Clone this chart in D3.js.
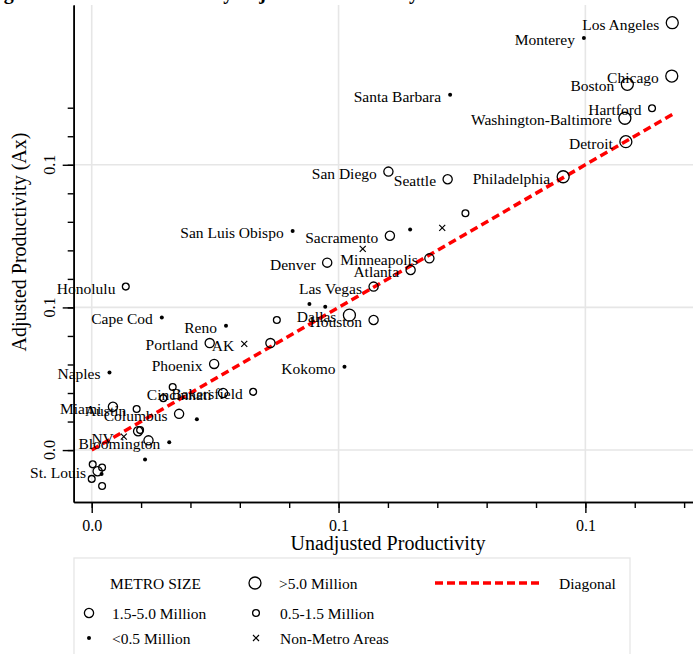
<!DOCTYPE html>
<html>
<head>
<meta charset="utf-8">
<script src="https://cdn.jsdelivr.net/npm/d3@7"></script>
<style>
body { margin: 0; background: #fff; }
svg { display: block; font-family: "Liberation Serif", "Times New Roman", serif; }
</style>
</head>
<body>
<script>
// metro groups: [label, unadjusted, adjusted]
const over5 = [
    ["Los Angeles", 0.1176, 0.1498],
    ["Chicago", 0.1175, 0.1311],
    ["Boston", 0.1085, 0.1282],
    ["Washington-Baltimore", 0.1080, 0.1163],
    ["Detroit", 0.1082, 0.1081],
    ["Philadelphia", 0.0955, 0.0958],
    ["Dallas", 0.0522, 0.0473]
];
const mid = [
    ["San Diego", 0.0601, 0.0976],
    ["Seattle", 0.0721, 0.0949],
    ["Sacramento", 0.0604, 0.0751],
    ["Denver", 0.0477, 0.0657],
    ["Minneapolis", 0.0684, 0.0672],
    ["Atlanta", 0.0646, 0.0631],
    ["Las Vegas", 0.0571, 0.0573],
    ["Houston", 0.0571, 0.0456],
    ["Portland", 0.0239, 0.0375],
    ["", 0.0362, 0.0375],
    ["Phoenix", 0.0248, 0.0302],
    ["Cincinnati", 0.0266, 0.0200],
    ["Miami", 0.0043, 0.0152],
    ["Columbus", 0.0177, 0.0127],
    ["", 0.0094, 0.0066],
    ["", 0.0115, 0.0034],
    ["St. Louis", 0.0012, -0.0074]
];
const small = [
    ["Hartford", 0.1135, 0.1198],
    ["", 0.0757, 0.0830],
    ["", 0.0375, 0.0456],
    ["Honolulu", 0.0069, 0.0573],
    ["", 0.0164, 0.0221],
    ["", 0.0145, 0.0182],
    ["Bakersfield", 0.0327, 0.0204],
    ["Austin", 0.0091, 0.0144],
    ["", 0.0098, 0.0070],
    ["", 0.0002, -0.0050],
    ["", 0.0021, -0.0061],
    ["", 0.0000, -0.0101],
    ["", 0.0021, -0.0126]
];
const under05 = [
    ["Monterey", 0.0997, 0.1444],
    ["Santa Barbara", 0.0726, 0.1245],
    ["San Luis Obispo", 0.0407, 0.0768],
    ["", 0.0645, 0.0773],
    ["", 0.0441, 0.0512],
    ["", 0.0473, 0.0502],
    ["Cape Cod", 0.0142, 0.0465],
    ["Reno", 0.0272, 0.0436],
    ["Kokomo", 0.0512, 0.0292],
    ["Naples", 0.0036, 0.0272],
    ["", 0.0213, 0.0108],
    ["Bloomington", 0.0157, 0.0027],
    ["", 0.0108, -0.0033],
    ["", 0.0020, -0.0084]
];
const nonMetro = [
    ["", 0.0710, 0.0779],
    ["", 0.0549, 0.0705],
    ["AK", 0.0309, 0.0372],
    ["NV", 0.0065, 0.0047]
];

const majorTicks = [0, 0.05, 0.10];
const xTickLabels = ["0.0", "0.1", "0.1"];
const yTickLabels = ["0.0", "0.1", "0.1"];
const minorTicks = d3.range(0, 13).map(i => i / 100);

const width = 693, height = 654;

const svg = d3.select("body").append("svg")
    .attr("width", width)
    .attr("height", height);

const x = d3.scaleLinear().domain([-0.00365, 0.1218]).range([73.7, 693]);
const y = d3.scaleLinear().domain([-0.0182, 0.156]).range([502, 5]);

// title, mostly above the visible area
svg.append("text")
    .attr("x", -14).attr("y", -1)
    .style("font-size", "20px").style("font-weight", "bold")
    .text("Figure 5: Labor Productivity adjusted for industry");

// grid
svg.append("g").selectAll("line")
    .data(majorTicks).enter().append("line")
    .attr("x1", d => x(d)).attr("x2", d => x(d))
    .attr("y1", 5).attr("y2", 502)
    .attr("stroke", "#e6e6e6").attr("stroke-width", 1.6);
svg.append("g").selectAll("line")
    .data(majorTicks).enter().append("line")
    .attr("x1", 74).attr("x2", 693)
    .attr("y1", d => y(d)).attr("y2", d => y(d))
    .attr("stroke", "#e6e6e6").attr("stroke-width", 1.6);

// axes
const xAxisG = svg.append("g").attr("transform", "translate(0,502)");
xAxisG.call(d3.axisBottom(x).tickValues(minorTicks).tickSize(6).tickSizeOuter(0).tickFormat(""));
xAxisG.append("g").call(d3.axisBottom(x).tickValues(majorTicks).tickSize(11).tickSizeOuter(0)
    .tickPadding(7).tickFormat((d, i) => xTickLabels[i]));
xAxisG.selectAll("path.domain").attr("stroke-width", 1.6);
xAxisG.selectAll("line").attr("stroke-width", 1.4);
xAxisG.selectAll("text").style("font-size", "16px").style("font-family", "Liberation Serif, serif").attr("fill", "#000");

const yAxisG = svg.append("g").attr("transform", "translate(73.7,0)");
yAxisG.call(d3.axisLeft(y).tickValues(minorTicks).tickSize(6).tickSizeOuter(0).tickFormat(""));
yAxisG.append("g").call(d3.axisLeft(y).tickValues(majorTicks).tickSize(11).tickSizeOuter(0).tickFormat(""));
yAxisG.selectAll("path.domain").attr("stroke-width", 1.6);
yAxisG.selectAll("line").attr("stroke-width", 1.4);

svg.append("g").selectAll("text")
    .data(majorTicks).enter().append("text")
    .attr("transform", d => `translate(49,${y(d)}) rotate(-90)`)
    .attr("text-anchor", "middle").attr("dy", "0.35em")
    .style("font-size", "16px")
    .text((d, i) => yTickLabels[i]);

// axis titles
svg.append("text")
    .attr("x", 388).attr("y", 550)
    .attr("text-anchor", "middle")
    .style("font-size", "20px")
    .text("Unadjusted Productivity");
svg.append("text")
    .attr("transform", "translate(19,242) rotate(-90)")
    .attr("text-anchor", "middle").attr("dy", "0.35em")
    .style("font-size", "20px")
    .text("Adjusted Productivity (Ax)");

// diagonal
const allX = [...over5, ...mid, ...small, ...under05, ...nonMetro].map(d => d[1]);
const maxX = d3.max(allX);
svg.append("line")
    .attr("x1", x(0)).attr("y1", y(0))
    .attr("x2", x(maxX)).attr("y2", y(maxX))
    .attr("stroke", "#ff0000").attr("stroke-width", 3.5)
    .attr("stroke-dasharray", "8,4.5");

// marker drawing
const groups = [
    {data: over5, kind: "circle", r: 6},
    {data: mid, kind: "circle", r: 4.6},
    {data: small, kind: "circle", r: 3.4},
    {data: under05, kind: "dot", r: 2},
    {data: nonMetro, kind: "cross", r: 3}
];

function drawMarker(g, kind, r) {
    if (kind === "circle") {
        g.append("circle").attr("r", r).attr("fill", "none")
            .attr("stroke", "#000").attr("stroke-width", 1.3);
    } else if (kind === "dot") {
        g.append("circle").attr("r", r).attr("fill", "#000");
    } else {
        g.append("path").attr("d", `M${-r},${-r}L${r},${r}M${-r},${r}L${r},${-r}`)
            .attr("stroke", "#000").attr("stroke-width", 1.2);
    }
}

groups.forEach(grp => {
    const pts = svg.append("g").selectAll("g")
        .data(grp.data).enter().append("g")
        .attr("transform", d => `translate(${x(d[1])},${y(d[2])})`);
    pts.each(function() { drawMarker(d3.select(this), grp.kind, grp.r); });
    pts.filter(d => d[0] !== "").append("text")
        .attr("x", -(grp.r + 7)).attr("y", 7)
        .attr("text-anchor", "end")
        .style("font-size", "15.5px")
        .text(d => d[0]);
});

// legend
const legend = svg.append("g");
legend.append("rect")
    .attr("x", 74).attr("y", 558).attr("width", 556).attr("height", 120)
    .attr("fill", "#fff").attr("stroke", "#e6e6e6").attr("stroke-width", 1.3);

const legendItems = [
    {kind: "circle", r: 6, cx: 255, cy: 583, label: ">5.0 Million"},
    {kind: "circle", r: 4.6, cx: 89, cy: 613, label: "1.5-5.0 Million"},
    {kind: "circle", r: 3.4, cx: 256, cy: 613, label: "0.5-1.5 Million"},
    {kind: "dot", r: 2, cx: 89, cy: 638, label: "<0.5 Million"},
    {kind: "cross", r: 3, cx: 256, cy: 638, label: "Non-Metro Areas"}
];
legendItems.forEach(it => {
    const g = legend.append("g").attr("transform", `translate(${it.cx},${it.cy})`);
    drawMarker(g, it.kind, it.r);
    g.append("text").attr("x", it.cx < 150 ? 23 : 24).attr("y", 5.5)
        .style("font-size", "15.5px").text(it.label);
});
legend.append("text").attr("x", 110).attr("y", 588.5)
    .style("font-size", "15.5px").text("METRO SIZE");
legend.append("line")
    .attr("x1", 435).attr("x2", 541).attr("y1", 583).attr("y2", 583)
    .attr("stroke", "#ff0000").attr("stroke-width", 3.5)
    .attr("stroke-dasharray", "8,4");
legend.append("text").attr("x", 559).attr("y", 588.5)
    .style("font-size", "15.5px").text("Diagonal");
</script>
</body>
</html>
